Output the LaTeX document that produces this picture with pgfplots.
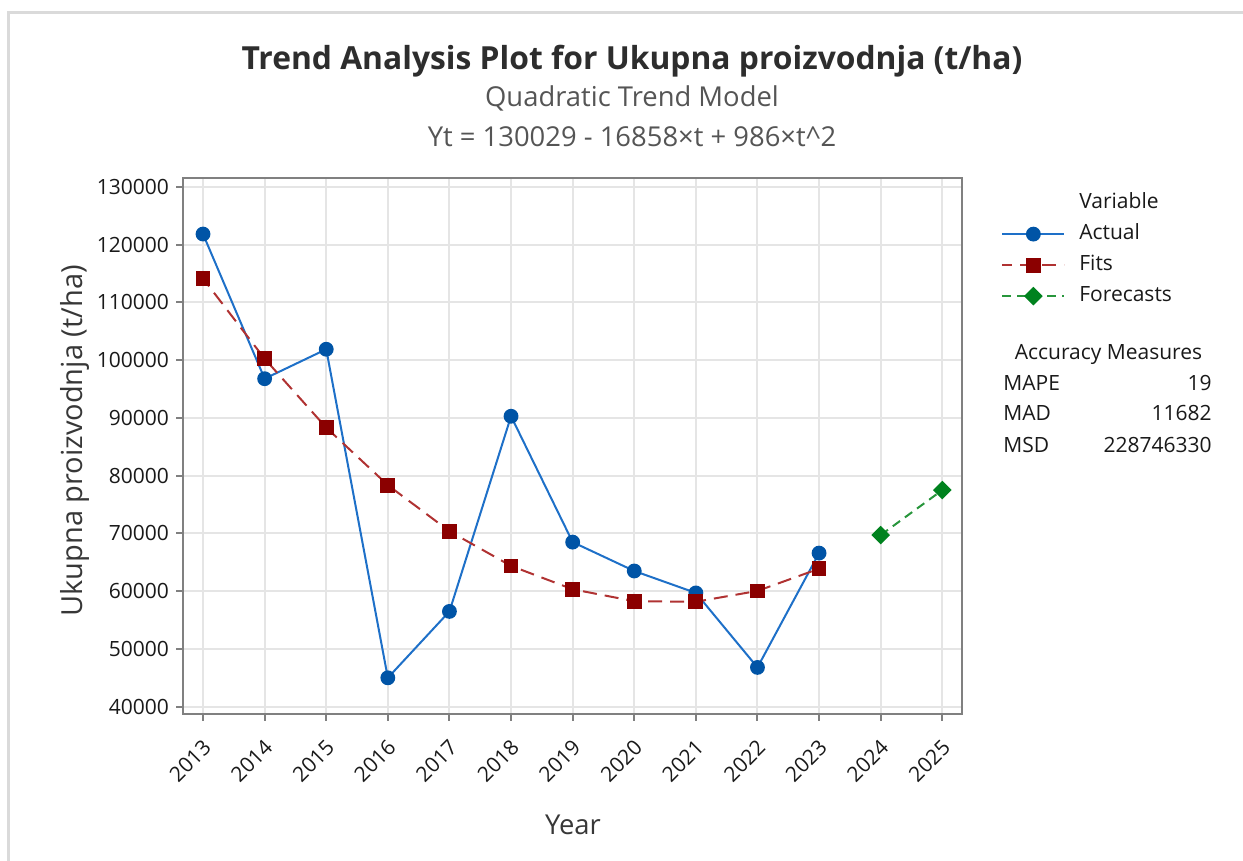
\documentclass[border=0pt]{standalone}
\usepackage{fontspec}
\setmainfont{Open Sans}
\usepackage{pgfplots}
\pgfplotsset{compat=1.18}
\definecolor{actline}{RGB}{30,112,200}
\definecolor{actmark}{RGB}{0,84,166}
\definecolor{fitline}{RGB}{176,50,50}
\definecolor{fitmark}{RGB}{139,0,0}
\definecolor{fcline}{RGB}{40,150,60}
\definecolor{fcmark}{RGB}{0,130,30}
\definecolor{gridc}{RGB}{229,229,229}
\definecolor{framec}{RGB}{128,128,128}
\definecolor{bordc}{RGB}{218,218,218}
\definecolor{titc}{RGB}{45,45,45}
\definecolor{subc}{RGB}{85,85,85}
\definecolor{labc}{RGB}{55,55,55}
\definecolor{tickc}{RGB}{25,25,25}
\begin{document}
\begin{tikzpicture}
\path[use as bounding box] (0,0) rectangle (621.5pt,430.5pt);
\draw[bordc, line width=1.5pt] (621.5pt,424pt) -- (4.25pt,424pt) -- (4.25pt,0pt);
\begin{axis}[
  at={(91.5pt,73.5pt)}, anchor=south west,
  scale only axis, width=389.5pt, height=268pt,
  xmin=2012.675, xmax=2025.32, ymin=38735, ymax=131560,
  xtick={2013,2014,...,2025}, ytick={40000,50000,...,130000},
  scaled y ticks=false, scaled x ticks=false,
  /pgf/number format/fixed,
  /pgf/number format/precision=0,
  /pgf/number format/1000 sep={},
  /pgf/number format/assume math mode=true,
  grid=major, major grid style={gridc, line width=1pt},
  axis line style={framec, line width=1pt},
  tick style={framec, line width=1pt}, tick align=outside, major tick length=3.5pt,
  xtick pos=bottom, ytick pos=left,
  x tick label style={xshift=4.5pt, yshift=-9pt, rotate=45, anchor=east, font=\fontsize{10.5}{12}\selectfont, text=tickc},
  y tick label style={font=\fontsize{10.5}{12}\selectfont, text=tickc},
  legend style={at={(1.05,0.9735)}, anchor=north west, draw=none, fill=none,
    font=\fontsize{10.5}{12}\selectfont, text=tickc,
    nodes={inner sep=0pt, text height=8pt, text depth=2.5pt, anchor=west},
    row sep=5pt, column sep=7pt, inner sep=0pt},
  legend cell align=left,
  legend image code/.code={\draw[mark repeat=2,mark phase=2,#1] plot coordinates {(0pt,0pt) (15.5pt,0pt) (31pt,0pt)};},
]
\addlegendimage{empty legend}
\addlegendentry{Variable}
\addplot[actline, line width=1pt, mark=*, mark size=3.2pt, mark options={actmark, fill=actmark, solid}]
  coordinates {(2013,121850) (2014,96800) (2015,101900) (2016,45000) (2017,56500) (2018,90300) (2019,68500) (2020,63500) (2021,59700) (2022,46800) (2023,66600)};
\addlegendentry{Actual}
\addplot[fitline, line width=1pt, dash pattern=on 7pt off 4pt, dash phase=2pt, mark=square*, mark size=3.2pt, mark options={fitmark, fill=fitmark, solid}]
  coordinates {(2013,114157) (2014,100257) (2015,88329) (2016,78373) (2017,70389) (2018,64377) (2019,60337) (2020,58269) (2021,58173) (2022,60049) (2023,63897)};
\addlegendentry{Fits}
\addplot[fcline, line width=1pt, dash pattern=on 4.5pt off 3pt, mark=square*, mark size=2.8pt, mark options={fcmark, fill=fcmark, solid, rotate=45}]
  coordinates {(2024,69717) (2025,77509)};
\addlegendentry{Forecasts}
\end{axis}
\node[font=\fontsize{15.9}{19}\selectfont\bfseries, text=titc] at (316pt,400pt) {Trend Analysis Plot for Ukupna proizvodnja (t/ha)};
\node[font=\fontsize{13.7}{16}\selectfont, text=subc] at (316pt,381.5pt) {Quadratic Trend Model};
\node[font=\fontsize{13.7}{16}\selectfont, text=subc] at (316pt,362pt) {Yt = 130029 - 16858×t + 986×t\^{}2};
\node[font=\fontsize{14.5}{17}\selectfont, text=labc, rotate=90] at (37.5pt,210pt) {Ukupna proizvodnja (t/ha)};
\node[font=\fontsize{13.7}{16}\selectfont, text=labc] at (286.5pt,18pt) {Year};
\node[font=\fontsize{10.5}{12}\selectfont, text=tickc] at (554.25pt,253pt) {Accuracy Measures};
\node[font=\fontsize{10.5}{12}\selectfont, text=tickc, anchor=west, inner sep=0pt] at (501.5pt,239pt) {MAPE};
\node[font=\fontsize{10.5}{12}\selectfont, text=tickc, anchor=west, inner sep=0pt] at (501.5pt,224pt) {MAD};
\node[font=\fontsize{10.5}{12}\selectfont, text=tickc, anchor=west, inner sep=0pt] at (501.5pt,208pt) {MSD};
\node[font=\fontsize{10.5}{12}\selectfont, text=tickc, anchor=east, inner sep=0pt] at (606pt,239pt) {19};
\node[font=\fontsize{10.5}{12}\selectfont, text=tickc, anchor=east, inner sep=0pt] at (606pt,224pt) {11682};
\node[font=\fontsize{10.5}{12}\selectfont, text=tickc, anchor=east, inner sep=0pt] at (606pt,208pt) {228746330};
\end{tikzpicture}
\end{document}
